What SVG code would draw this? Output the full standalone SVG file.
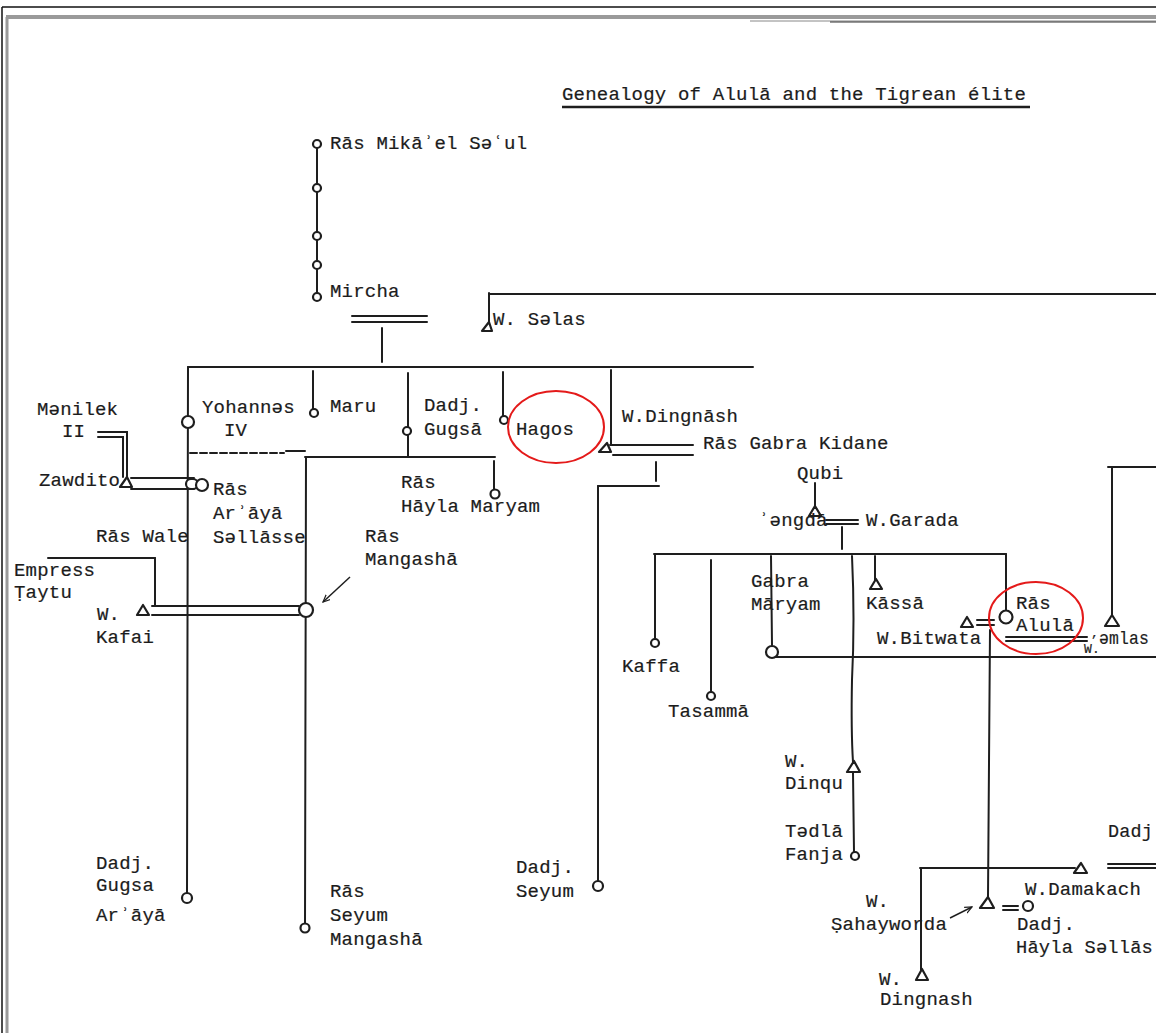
<svg xmlns="http://www.w3.org/2000/svg" width="1156" height="1033" viewBox="0 0 1156 1033">
<style>
text{font-family:"Liberation Mono","DejaVu Sans Mono",monospace;font-size:19px;fill:#1c1c1c;stroke:#1c1c1c;stroke-width:0.2;letter-spacing:0.2px}
.sm{font-size:13px}
.ln{stroke:#1e1e1e;stroke-width:2;fill:none;stroke-linecap:round}
.th{stroke:#1e1e1e;stroke-width:1.5;fill:none}
.c{fill:#fff;stroke:#1e1e1e;stroke-width:2.2}
.t{fill:#fff;stroke:#1e1e1e;stroke-width:2.2;stroke-linejoin:round}
.red{fill:none;stroke:#e41a1a;stroke-width:2}
</style>
<defs>
<marker id="ah" viewBox="0 0 10 10" refX="9" refY="5" markerWidth="8" markerHeight="8" orient="auto" markerUnits="userSpaceOnUse">
<path d="M0,1 L9,5 L0,9" fill="none" stroke="#1e1e1e" stroke-width="1.5"/>
</marker>
</defs>
<rect width="1156" height="1033" fill="#fff"/>
<g id="frame">
<line x1="2" y1="7" x2="1156" y2="7" stroke="#111" stroke-width="1.5"/>
<line x1="2" y1="7" x2="2" y2="1033" stroke="#111" stroke-width="1.5"/>
<line x1="6" y1="17" x2="1156" y2="17" stroke="#9a9a9a" stroke-width="4"/>
<line x1="7" y1="17" x2="7" y2="1033" stroke="#9a9a9a" stroke-width="3"/>
<line x1="750" y1="21" x2="1156" y2="21" stroke="#888" stroke-width="1"/>
<line x1="830" y1="22" x2="1156" y2="22" stroke="#333" stroke-width="1.2"/>
</g>
<g id="title">
<text x="562" y="100">Genealogy of Alulā and the Tigrean élite</text>
<line x1="562" y1="107" x2="1030" y2="107" stroke="#1e1e1e" stroke-width="2.5"/>
</g>
<g id="connectors">
<line class="ln" x1="317" y1="144" x2="317" y2="297"/>
<line class="ln" x1="352" y1="316" x2="427" y2="316"/>
<line class="ln" x1="352" y1="322" x2="427" y2="322"/>
<line class="ln" x1="382" y1="328" x2="382" y2="362"/>
<line class="ln" x1="188" y1="367" x2="753" y2="367"/>
<line class="ln" x1="188" y1="367" x2="187" y2="893"/>
<line class="ln" x1="190" y1="453" x2="284" y2="453" stroke-dasharray="7 3"/>
<line class="ln" x1="286" y1="451" x2="305" y2="451" stroke-width="2.5"/>
<line class="ln" x1="313" y1="371" x2="313" y2="409"/>
<line class="ln" x1="408" y1="373" x2="408" y2="457"/>
<line class="ln" x1="305" y1="457" x2="495" y2="457"/>
<line class="ln" x1="494" y1="461" x2="494" y2="490"/>
<line class="ln" x1="306" y1="457" x2="305" y2="924"/>
<line class="ln" x1="503" y1="372" x2="503" y2="416"/>
<line class="ln" x1="611" y1="370" x2="611" y2="444"/>
<line class="ln" x1="610" y1="445" x2="693" y2="445"/>
<line class="ln" x1="613" y1="455" x2="693" y2="455"/>
<line class="ln" x1="656" y1="462" x2="656" y2="481"/>
<line class="ln" x1="598" y1="486" x2="659" y2="486"/>
<line class="ln" x1="598" y1="486" x2="598" y2="881"/>
<line class="ln" x1="489" y1="293" x2="489" y2="322"/>
<line class="ln" x1="489" y1="294" x2="1156" y2="294"/>
<polyline class="ln" points="98,432 127,432 127,477"/>
<polyline class="ln" points="98,437 123,437 123,477"/>
<line class="ln" x1="131" y1="478" x2="194" y2="478"/>
<line class="ln" x1="131" y1="489" x2="194" y2="489"/>
<rect x="186" y="479" width="12" height="10" rx="5" class="c" stroke-width="1.5"/>
<line class="ln" x1="48" y1="558" x2="155" y2="558"/>
<line class="ln" x1="155" y1="558" x2="155" y2="605"/>
<line class="ln" x1="152" y1="606" x2="299" y2="606"/>
<line class="ln" x1="152" y1="615" x2="299" y2="615"/>
<line class="th" x1="350" y1="577" x2="323" y2="602" marker-end="url(#ah)"/>
<line class="ln" x1="815" y1="483" x2="815" y2="506"/>
<line class="ln" x1="826" y1="520" x2="858" y2="520"/>
<line class="ln" x1="826" y1="524" x2="858" y2="524"/>
<line class="ln" x1="842" y1="527" x2="842" y2="549"/>
<line class="ln" x1="654" y1="554" x2="1006" y2="554"/>
<line class="ln" x1="655" y1="554" x2="655" y2="638"/>
<line class="ln" x1="711" y1="560" x2="711" y2="692"/>
<line class="ln" x1="771" y1="556" x2="772" y2="645"/>
<path class="ln" d="M852,556 Q855,620 852,680 Q851,730 853,762"/>
<line class="ln" x1="853" y1="773" x2="854" y2="852"/>
<line class="ln" x1="875" y1="556" x2="875" y2="580"/>
<line class="ln" x1="1006" y1="554" x2="1006" y2="610"/>
<line class="ln" x1="977" y1="620" x2="994" y2="620"/>
<line class="ln" x1="977" y1="625" x2="994" y2="625"/>
<line class="ln" x1="1006" y1="637" x2="1087" y2="637"/>
<line class="ln" x1="1006" y1="641" x2="1087" y2="641"/>
<line class="ln" x1="1112" y1="467" x2="1112" y2="615"/>
<line class="ln" x1="1108" y1="467" x2="1156" y2="467"/>
<line class="ln" x1="772" y1="657" x2="1156" y2="657"/>
<line class="ln" x1="990" y1="630" x2="988" y2="897"/>
<line class="ln" x1="920" y1="868" x2="1075" y2="868"/>
<line class="ln" x1="921" y1="868" x2="921" y2="970"/>
<line class="ln" x1="1003" y1="906" x2="1018" y2="906"/>
<line class="ln" x1="1003" y1="910" x2="1018" y2="910"/>
<line class="th" x1="950" y1="918" x2="972" y2="907" marker-end="url(#ah)"/>
<line class="ln" x1="1108" y1="864" x2="1156" y2="864"/>
<line class="ln" x1="1108" y1="868" x2="1156" y2="868"/>
</g>
<g id="n-mikael"><circle class="c" cx="317" cy="144" r="4"/><text x="330" y="149">Rās Mikāʾel Səʿul</text></g>
<g id="n-anc1"><circle class="c" cx="317" cy="188" r="4"/></g>
<g id="n-anc2"><circle class="c" cx="317" cy="236" r="4"/></g>
<g id="n-anc3"><circle class="c" cx="317" cy="265" r="4"/></g>
<g id="n-mircha"><circle class="c" cx="317" cy="297" r="4"/><text x="330" y="297">Mircha</text></g>
<g id="n-selas"><polygon class="t" points="482,331 492,331 489,322"/><text x="493" y="325">W. Səlas</text></g>
<g id="n-yohannes"><circle class="c" cx="188" cy="422" r="6"/><text x="202" y="413">Yohannəs</text><text x="224" y="436">IV</text></g>
<g id="n-maru"><circle class="c" cx="314" cy="413" r="4"/><text x="330" y="412">Maru</text></g>
<g id="n-gugsa"><circle class="c" cx="407" cy="431" r="4"/><text x="424" y="411">Dadj.</text><text x="424" y="435">Gugsā</text></g>
<g id="n-hagos"><circle class="c" cx="504" cy="420" r="4"/><text x="516" y="435">Hagos</text></g>
<g id="n-dingnash"><polygon class="t" points="599,452 611,452 607,443"/><text x="622" y="422">W.Dingnāsh</text></g>
<g id="n-gabrakidane"><text x="703" y="449">Rās Gabra Kidane</text></g>
<g id="n-menilek"><text x="37" y="415">Mənilek</text><text x="62" y="437">II</text></g>
<g id="n-zawdito"><polygon class="t" points="120,487 132,487 127,477"/><text x="39" y="486">Zawdito</text></g>
<g id="n-araya"><circle class="c" cx="202" cy="485" r="6"/><text x="213" y="495">Rās</text><text x="213" y="519">Arʾāyā</text><text x="213" y="543">Səllāsse</text></g>
<g id="n-wale"><text x="96" y="542">Rās Wale</text></g>
<g id="n-haylamaryam"><circle class="c" cx="495" cy="494" r="4.5"/><text x="401" y="488">Rās</text><text x="401" y="512">Hāyla Maryam</text></g>
<g id="n-mangasha"><circle class="c" cx="306" cy="610" r="7"/><text x="365" y="542">Rās</text><text x="365" y="565">Mangashā</text></g>
<g id="n-taytu"><text x="14" y="576">Empress</text><text x="14" y="598">Ṭaytu</text></g>
<g id="n-kafai"><polygon class="t" points="137,615 149,615 143,605"/><text x="97" y="620">W.</text><text x="96" y="643">Kafai</text></g>
<g id="n-gugsaaraya"><circle class="c" cx="187" cy="898" r="5"/><text x="96" y="869">Dadj.</text><text x="96" y="891">Gugsa</text><text x="96" y="921">Arʾāyā</text></g>
<g id="n-seyummangasha"><circle class="c" cx="305" cy="928" r="4.5"/><text x="330" y="897">Rās</text><text x="330" y="921">Seyum</text><text x="330" y="945">Mangashā</text></g>
<g id="n-seyum"><circle class="c" cx="598" cy="886" r="5"/><text x="516" y="873">Dadj.</text><text x="516" y="897">Seyum</text></g>
<g id="n-qubi"><text x="797" y="479">Qubi</text></g>
<g id="n-engda"><polygon class="t" points="809,516 821,516 815,506"/><text x="758" y="526">ʾəngdā</text></g>
<g id="n-garada"><text x="866" y="526">W.Garada</text></g>
<g id="n-kaffa"><circle class="c" cx="655" cy="643" r="4"/><text x="622" y="672">Kaffa</text></g>
<g id="n-tasamma"><circle class="c" cx="711" cy="696" r="4"/><text x="668" y="717">Tasammā</text></g>
<g id="n-gabramaryam"><circle class="c" cx="772" cy="652" r="6"/><text x="751" y="587">Gabra</text><text x="751" y="610">Māryam</text></g>
<g id="n-kassa"><polygon class="t" points="870,589 882,589 876,579"/><text x="866" y="609">Kāssā</text></g>
<g id="n-alula"><circle class="c" cx="1006" cy="617" r="6.5"/><text x="1016" y="609">Rās</text><text x="1016" y="631">Alulā</text></g>
<g id="n-bitwata"><polygon class="t" points="961,627 973,627 967,617"/><text x="877" y="644">W.Bitwata</text></g>
<g id="n-emlas"><polygon class="t" points="1105,626 1119,626 1112,615"/><text x="1091" y="637" class="sm">,</text><text x="1084" y="653" class="sm">W.</text><text x="1099" y="644" textLength="50" lengthAdjust="spacingAndGlyphs">əmlas</text></g>
<g id="n-dinqu"><polygon class="t" points="847,772 860,772 854,761"/><text x="785" y="767">W.</text><text x="785" y="789">Dinqu</text></g>
<g id="n-tedla"><circle class="c" cx="855" cy="856" r="4"/><text x="785" y="837">Tədlā</text><text x="785" y="860">Fanja</text></g>
<g id="n-dadjright"><text x="1108" y="837" textLength="45" lengthAdjust="spacingAndGlyphs">Dadj</text></g>
<g id="n-damakach"><polygon class="t" points="1074,873 1087,873 1081,863"/><text x="1025" y="895">W.Damakach</text></g>
<g id="n-sahayworda"><polygon class="t" points="980,908 994,908 988,897"/><text x="866" y="907">W.</text><text x="831" y="930">Ṣahayworda</text></g>
<g id="n-haylasellase"><circle class="c" cx="1028" cy="906" r="5"/><text x="1017" y="930">Dadj.</text><text x="1016" y="953" textLength="137" lengthAdjust="spacingAndGlyphs">Hāyla Səllās</text></g>
<g id="n-dingnash2"><polygon class="t" points="916,980 928,980 922,969"/><text x="879" y="985">W.</text><text x="880" y="1005">Dingnash</text></g>
<g id="annotations">
<ellipse class="red" cx="556" cy="427" rx="48" ry="36"/>
<ellipse class="red" cx="1036" cy="618" rx="47" ry="36"/>
</g>
</svg>
